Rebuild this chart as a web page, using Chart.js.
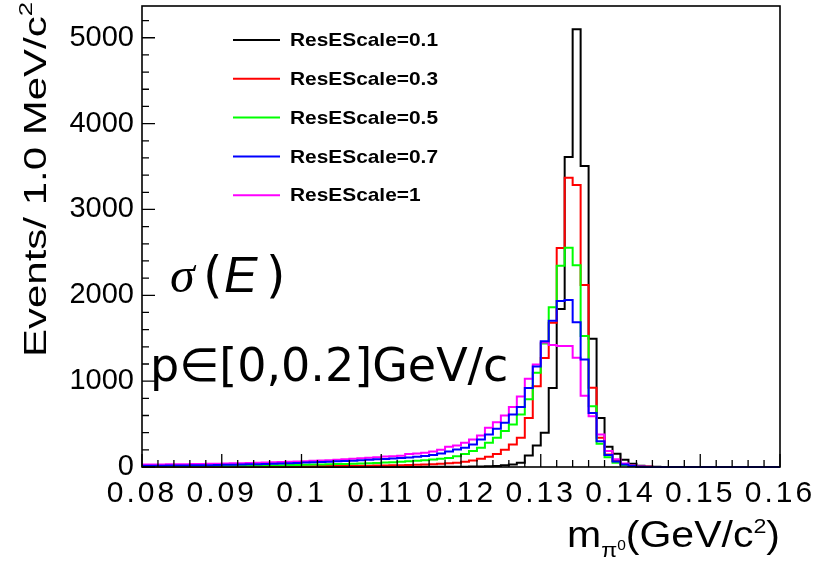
<!DOCTYPE html>
<html>
<head>
<meta charset="utf-8">
<script src="https://cdn.jsdelivr.net/npm/chart.js@4.4.0/dist/chart.umd.min.js"></script>
<style>
  html, body { margin: 0; padding: 0; background: #fff; }
  #wrap { width: 822px; height: 570px; }
</style>
</head>
<body>
<div id="wrap"><canvas id="massChart" width="822" height="570"></canvas></div>
<script>
// pi0 mass, 1 MeV bins from 0.080 to 0.160 GeV/c^2
const binLow = 0.08;
const binWidth = 0.001;

const seriesLabels = ['ResEScale=0.1', 'ResEScale=0.3', 'ResEScale=0.5', 'ResEScale=0.7', 'ResEScale=1'];
const seriesColors = ['#000000', '#ff0000', '#00ff00', '#0000ff', '#ff00ff'];

const resE01 = [
  0, 0, 0, 0, 0, 0, 0, 0, 0, 0,
  0, 0, 0, 0, 0, 0, 0, 0, 0, 0,
  0, 0, 0, 0, 0, 0, 0, 0, 0, 0,
  0, 0, 1, 1, 1, 2, 2, 3, 3, 4,
  4, 5, 6, 8, 12, 20, 28, 50, 135, 250,
  400, 920, 1840, 3610, 5100, 3505, 1495, 570, 235, 155,
  85, 38, 14, 6, 2, 0, 0, 0, 0, 0,
  0, 0, 0, 0, 0, 0, 0, 0, 0, 0
];
const resE03 = [
  2, 2, 2, 3, 3, 3, 3, 4, 4, 4,
  5, 5, 5, 6, 6, 7, 7, 8, 8, 9,
  10, 10, 11, 12, 12, 13, 14, 15, 16, 17,
  18, 19, 20, 22, 25, 28, 32, 37, 43, 50,
  60, 75, 95, 120, 150, 200, 262, 340, 570, 940,
  1270, 1680, 2550, 3370, 3285, 2120, 922, 340, 146, 70,
  30, 12, 5, 2, 0, 0, 0, 0, 0, 0,
  0, 0, 0, 0, 0, 0, 0, 0, 0, 0
];
const resE05 = [
  8, 8, 9, 9, 10, 10, 11, 11, 12, 12,
  13, 14, 15, 16, 17, 18, 19, 21, 22, 24,
  26, 28, 30, 32, 34, 36, 39, 42, 45, 48,
  52, 56, 61, 66, 72, 78, 86, 95, 105, 125,
  150, 185, 225, 282, 340, 418, 495, 612, 790, 1097,
  1439, 1860, 2345, 2555, 2349, 1525, 709, 270, 115, 50,
  20, 8, 3, 0, 0, 0, 0, 0, 0, 0,
  0, 0, 0, 0, 0, 0, 0, 0, 0, 0
];
const resE07 = [
  15, 15, 16, 17, 18, 18, 19, 20, 21, 22,
  25, 27, 29, 31, 33, 36, 39, 42, 45, 48,
  51, 54, 58, 62, 66, 70, 74, 79, 84, 89,
  93, 98, 104, 110, 118, 128, 140, 157, 180, 204,
  223, 262, 320, 379, 445, 515, 612, 700, 920, 1170,
  1465, 1705, 1935, 1944, 1685, 1253, 630, 300, 140, 65,
  28, 12, 4, 0, 0, 0, 0, 0, 0, 0,
  0, 0, 0, 0, 0, 0, 0, 0, 0, 0
];
const resE1 = [
  28, 29, 30, 31, 32, 33, 34, 35, 37, 39,
  41, 43, 45, 47, 50, 52, 55, 58, 61, 64,
  68, 72, 76, 80, 85, 90, 96, 102, 108, 115,
  122, 126, 130, 150, 158, 165, 180, 200, 235, 250,
  282, 320, 367, 456, 522, 600, 700, 820, 1027, 1195,
  1450, 1420, 1410, 1410, 1272, 830, 592, 380, 185, 90,
  40, 18, 7, 3, 0, 0, 0, 0, 0, 0,
  0, 0, 0, 0, 0, 0, 0, 0, 0, 0
];
const seriesValues = [resE01, resE03, resE05, resE07, resE1];
// stacking: blue on top, black at the bottom
const drawOrder = [4, 3, 2, 0, 1];

const xTickValues = [0.08, 0.09, 0.10, 0.11, 0.12, 0.13, 0.14, 0.15, 0.16];
const xTickLabels = ['0.08', '0.09', '0.1', '0.11', '0.12', '0.13', '0.14', '0.15', '0.16'];
const yTickValues = [0, 1000, 2000, 3000, 4000, 5000];
const yTickLabels = ['0', '1000', '2000', '3000', '4000', '5000'];
const xMin = 0.08, xMax = 0.16, yMax = 5370;

// each bin starts at its low edge; one extra point closes the last bin
function histPoints(values) {
  const pts = values.map((v, i) => ({ x: binLow + i * binWidth, y: v }));
  pts.push({ x: binLow + values.length * binWidth, y: values[values.length - 1] });
  return pts;
}

const SANS = '"Liberation Sans", Arial, sans-serif';

// draw a run of text pieces stretched along the baseline to a given width
function drawStretched(ctx, parts, x, y, targetW) {
  let total = 0;
  parts.forEach(p => { ctx.font = p.f; p.w = ctx.measureText(p.t).width; total += p.w; });
  const sx = targetW / total;
  ctx.save();
  ctx.translate(x, y);
  ctx.scale(sx, 1);
  let cx = 0;
  parts.forEach(p => { ctx.font = p.f; ctx.fillText(p.t, cx, p.dy || 0); cx += p.w; });
  ctx.restore();
}

// x tick labels are set a little wider than the y ones
const labelSpacing = {
  id: 'labelSpacing',
  beforeDraw(chart) { chart.ctx.letterSpacing = '3px'; },
  beforeDatasetsDraw(chart) { chart.ctx.letterSpacing = '0px'; }
};

const rootFrame = {
  id: 'rootFrame',
  afterDatasetsDraw(chart) {
    const { ctx, chartArea: a, scales } = chart;
    const xs = scales.x, ys = scales.y;
    ctx.save();
    ctx.strokeStyle = '#000';
    ctx.lineWidth = 1.6;
    ctx.strokeRect(a.left, a.top, a.right - a.left, a.bottom - a.top);

    // inward ticks, 5 minor divisions per major
    ctx.lineWidth = 1.3;
    ctx.beginPath();
    for (let i = 0; i < xTickValues.length; i++) {
      const px = xs.getPixelForValue(xTickValues[i]);
      ctx.moveTo(px, a.bottom); ctx.lineTo(px, a.bottom - 13);
      if (i < xTickValues.length - 1) {
        const step = (xTickValues[i + 1] - xTickValues[i]) / 5;
        for (let k = 1; k < 5; k++) {
          const mx = xs.getPixelForValue(xTickValues[i] + k * step);
          ctx.moveTo(mx, a.bottom); ctx.lineTo(mx, a.bottom - 7);
        }
      }
    }
    for (let v = 0; v <= yMax; v += 200) {
      const py = ys.getPixelForValue(v);
      const len = v % 1000 === 0 ? 13 : 7;
      ctx.moveTo(a.left, py); ctx.lineTo(a.left + len, py);
    }
    ctx.stroke();

    // legend
    ctx.textBaseline = 'middle';
    ctx.textAlign = 'left';
    ctx.fillStyle = '#000';
    seriesLabels.forEach((lab, i) => {
      const y = 40 + i * 38.8;
      ctx.strokeStyle = seriesColors[i];
      ctx.lineWidth = 2;
      ctx.beginPath(); ctx.moveTo(233, y); ctx.lineTo(280, y); ctx.stroke();
      ctx.font = 'bold 19px ' + SANS;
      const w = ctx.measureText(lab).width;
      const lw = 148 * w / ctx.measureText('ResEScale=0.1').width;
      drawStretched(ctx, [{ t: lab, f: 'bold 19px ' + SANS }], 290, y + 1, lw);
    });

    // annotations
    ctx.textBaseline = 'alphabetic';
    ctx.font = 'italic 50px "Liberation Serif", serif';
    ctx.fillText('\u03c3', 170, 292);
    ctx.font = '50px "DejaVu Sans", sans-serif';
    ctx.fillText('(', 203, 292);
    ctx.font = 'italic 50px ' + SANS;
    ctx.fillText('E', 224, 292);
    ctx.font = '50px "DejaVu Sans", sans-serif';
    ctx.fillText(')', 266, 292);
    ctx.font = '46px "DejaVu Sans", sans-serif';
    ctx.fillText('p\u2208[0,0.2]GeV/c', 150, 381);

    // x title: m_{pi^0}(GeV/c^2), ends at the axis end
    drawStretched(ctx, [
      { t: 'm', f: '37px ' + SANS },
      { t: '\u03c0', f: '21px ' + SANS, dy: 10 },
      { t: '0', f: '14px ' + SANS, dy: 3 },
      { t: '(GeV/c', f: '37px ' + SANS },
      { t: '2', f: '21px ' + SANS, dy: -14 },
      { t: ')', f: '37px ' + SANS }
    ], 567, 547, a.right - 567);

    // y title, rotated, ends near the top of the axis
    ctx.translate(46, 357);
    ctx.rotate(-Math.PI / 2);
    drawStretched(ctx, [
      { t: 'Events/ 1.0 MeV/c', f: '31px ' + SANS },
      { t: '2', f: '19px ' + SANS, dy: -14 }
    ], 0, 0, 355);
    ctx.restore();
  }
};

new Chart(document.getElementById('massChart'), {
  type: 'line',
  data: {
    datasets: seriesValues.map((vals, i) => ({
      label: seriesLabels[i],
      data: histPoints(vals),
      borderColor: seriesColors[i],
      borderWidth: 2,
      pointRadius: 0,
      stepped: true,
      fill: false,
      order: drawOrder[i],
      clip: 3
    }))
  },
  options: {
    responsive: false,
    animation: false,
    devicePixelRatio: 1,
    layout: { padding: { top: 6, right: 42, left: 0, bottom: 0 } },
    plugins: { legend: { display: false }, tooltip: { enabled: false } },
    scales: {
      x: {
        type: 'linear',
        min: xMin,
        max: xMax,
        afterBuildTicks: s => { s.ticks = xTickValues.map(v => ({ value: v })); },
        afterFit: s => { s.height = 103; s.paddingLeft = 0; s.paddingRight = 0; },
        grid: { display: false, drawTicks: false },
        border: { display: false },
        ticks: {
          autoSkip: false,
          maxRotation: 0,
          padding: 9,
          color: '#000',
          font: { family: SANS, size: 30 },
          callback: (v, i) => xTickLabels[i]
        }
      },
      y: {
        min: 0,
        max: yMax,
        afterBuildTicks: s => { s.ticks = yTickValues.map(v => ({ value: v })); },
        afterFit: s => { s.width = 142; s.paddingTop = 0; s.paddingBottom = 0; },
        grid: { display: false, drawTicks: false },
        border: { display: false },
        ticks: {
          z: 1,
          padding: 8,
          color: '#000',
          font: { family: SANS, size: 29 },
          callback: (v, i) => yTickLabels[i]
        }
      }
    }
  },
  plugins: [labelSpacing, rootFrame]
});
</script>
</body>
</html>
